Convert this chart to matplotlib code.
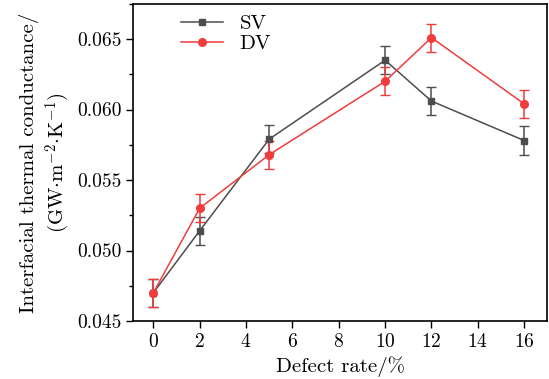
import matplotlib
matplotlib.use("Agg")
import matplotlib.pyplot as plt
from matplotlib.ticker import MultipleLocator

plt.rcParams['font.family'] = 'serif'
plt.rcParams['font.serif'] = ['cmr10']
plt.rcParams['mathtext.fontset'] = 'cm'
plt.rcParams['axes.formatter.use_mathtext'] = True

defect = [0, 2, 5, 10, 12, 16]
sv = [0.0470, 0.0514, 0.0579, 0.0635, 0.0606, 0.0578]
sv_err = [0.0010, 0.0010, 0.0010, 0.0010, 0.0010, 0.0010]
dv = [0.0470, 0.0530, 0.0568, 0.0620, 0.0651, 0.0604]
dv_err = [0.0010, 0.0010, 0.0010, 0.0010, 0.0010, 0.0010]

fig = plt.figure(figsize=(5.49, 3.79), dpi=100)
ax = fig.add_axes([0.243, 0.153, 0.754, 0.837])

eb1 = ax.errorbar(defect, sv, yerr=sv_err, color='#4d4d4d', marker='s', ms=5,
                  lw=1.1, elinewidth=1.1, capsize=3.5)
eb2 = ax.errorbar(defect, dv, yerr=dv_err, color='#f03c3c', marker='o', ms=5.5,
                  lw=1.1, elinewidth=1.1, capsize=3.5)

ax.set_xlim(-0.86, 17)
ax.set_ylim(0.045, 0.0675)
ax.set_xticks(range(0, 17, 2))
ax.set_yticks([0.045, 0.050, 0.055, 0.060, 0.065])
ax.yaxis.set_minor_locator(MultipleLocator(0.0025))
ax.set_yticklabels(['0.045', '0.050', '0.055', '0.060', '0.065'])
ax.tick_params(labelsize=14, direction='out', length=5, width=1)
ax.tick_params(which='minor', length=3, width=1)
for s in ax.spines.values():
    s.set_linewidth(1.2)

ax.set_xlabel('Defect rate/%', fontsize=15)
ax.set_ylabel('Interfacial thermal conductance/\n(GW$\\cdot$m$^{-2}$$\\cdot$K$^{-1}$)', fontsize=15)
ax.legend([eb1[0], eb2[0]], ['SV', 'DV'], loc='upper left', bbox_to_anchor=(0.07, 1.025),
          frameon=False, fontsize=15, handlelength=2.0, labelspacing=0.05)

fig.savefig('out.png', dpi=100)
